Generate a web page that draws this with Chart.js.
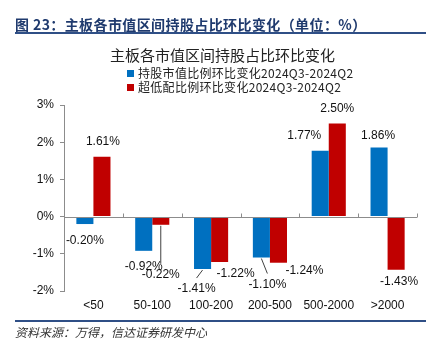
<!DOCTYPE html>
<html>
<head>
<meta charset="utf-8">
<script src="https://cdn.jsdelivr.net/npm/chart.js@4.4.1/dist/chart.umd.min.js"></script>
<style>
  html, body { margin: 0; padding: 0; background: #fff; }
  #wrap { position: relative; width: 441px; height: 349px; overflow: hidden; font-family: "Noto Sans CJK SC", sans-serif; }
  #chart { position: absolute; left: 0; top: 0; }
  .abs { position: absolute; white-space: nowrap; }
  #head { left: 15px; top: 15px; font-size: 14px; font-weight: bold; color: #1f3a6e; line-height: 18px; letter-spacing: 0.4px; }
  .rule { position: absolute; left: 15px; width: 411px; background: #2f4f86; }
  #title { left: 110px; top: 45px; font-size: 15px; color: #222; line-height: 20px; }
  .leg { left: 127px; font-size: 12px; color: #222; line-height: 15px; letter-spacing: 0.3px; }
  .leg i { display: inline-block; width: 7px; height: 7px; margin-right: 4px; vertical-align: 1px; }
  #src { left: 15px; top: 324px; font-size: 12px; font-style: italic; color: #333; line-height: 16px; }
</style>
</head>
<body>
<div id="wrap">
  <canvas id="chart" width="441" height="349"></canvas>
  <div class="abs" id="head">图 23：主板各市值区间持股占比环比变化（单位：%）</div>
  <div class="rule" style="top:32px;height:2px;"></div>
  <div class="abs" id="title">主板各市值区间持股占比环比变化</div>
  <div class="abs leg" style="top:65px;"><i style="background:#0070c0"></i>持股市值比例环比变化2024Q3-2024Q2</div>
  <div class="abs leg" style="top:79px;"><i style="background:#c00000"></i>超低配比例环比变化2024Q3-2024Q2</div>
  <div class="rule" style="top:320px;height:1.5px;"></div>
  <div class="abs" id="src">资料来源：万得，信达证券研发中心</div>
</div>
<script>
const categories = ["<50", "50-100", "100-200", "200-500", "500-2000", ">2000"];
const holdingChange = [-0.20, -0.92, -1.41, -1.10, 1.77, 1.86];
const overweightChange = [1.61, -0.22, -1.22, -1.24, 2.50, -1.43];
const seriesNames = ["持股市值比例环比变化2024Q3-2024Q2", "超低配比例环比变化2024Q3-2024Q2"];
const yTicks = [-2, -1, 0, 1, 2, 3];

// label nudges [dx, dy, leader line] per dataset / bar
const labelNudge = [
  [[0, 2, 0], [0, 1, 0], [-6, 5, 1], [6, 12, 1], [-16, 0, 0], [-1, 3, 0]],
  [[1, 0, 0], [0, 35, 1], [16, -3, 0], [26, -7, 0], [0, 0, 0], [3, -3, 0]]
];

const axisGray = "#8c8c8c";

const labelPlugin = {
  id: "barLabels",
  afterDatasetsDraw(chart) {
    const ctx = chart.ctx;
    ctx.save();
    ctx.font = "12px 'Liberation Sans', Arial, sans-serif";
    ctx.textAlign = "center";
    ctx.textBaseline = "middle";
    chart.data.datasets.forEach((ds, di) => {
      chart.getDatasetMeta(di).data.forEach((bar, i) => {
        const v = ds.data[i];
        const n = labelNudge[di][i];
        const lx = bar.x + n[0];
        const ly = bar.y + (v >= 0 ? -15 : 15) + n[1];
        if (n[2]) {
          ctx.strokeStyle = "#404040";
          ctx.lineWidth = 1;
          ctx.beginPath();
          ctx.moveTo(bar.x, bar.y + 1);
          ctx.lineTo(lx, ly - 11);
          ctx.stroke();
        }
        ctx.fillStyle = "#111";
        ctx.fillText(v.toFixed(2) + "%", lx, ly);
      });
    });
    ctx.restore();
  }
};

const zeroAxisPlugin = {
  id: "zeroAxis",
  afterDatasetsDraw(chart) {
    const ctx = chart.ctx;
    const x = chart.scales.x, y = chart.scales.y;
    const y0 = Math.round(y.getPixelForValue(0)) + 0.5;
    ctx.save();
    ctx.strokeStyle = axisGray;
    ctx.lineWidth = 1;
    ctx.beginPath();
    ctx.moveTo(x.left, y0);
    ctx.lineTo(x.right, y0);
    const step = (x.right - x.left) / categories.length;
    for (let i = 1; i <= categories.length; i++) {
      const px = Math.round(x.left + step * i) + 0.5;
      ctx.moveTo(px, y0);
      ctx.lineTo(px, y0 - 4);
    }
    ctx.stroke();
    ctx.restore();
  }
};

new Chart(document.getElementById("chart"), {
  type: "bar",
  data: {
    labels: categories,
    datasets: [
      { label: seriesNames[0], data: holdingChange, backgroundColor: "#0070c0" },
      { label: seriesNames[1], data: overweightChange, backgroundColor: "#c00000" }
    ]
  },
  options: {
    responsive: false,
    animation: false,
    categoryPercentage: 0.58,
    barPercentage: 1,
    layout: { padding: { left: 20, right: 24, top: 105, bottom: 34 } },
    plugins: { legend: { display: false }, title: { display: false }, tooltip: { enabled: false } },
    scales: {
      x: {
        grid: { display: false, drawTicks: false },
        border: { display: false },
        ticks: { color: "#111", padding: 7, font: { family: "'Liberation Sans', Arial, sans-serif", size: 12 } },
        afterFit(scale) { scale.height = 24; }
      },
      y: {
        min: yTicks[0],
        max: yTicks[yTicks.length - 1],
        afterBuildTicks(scale) { scale.ticks = yTicks.map(v => ({ value: v })); },
        grid: { drawOnChartArea: false, drawTicks: true, tickLength: 4, color: axisGray },
        border: { display: true, color: axisGray },
        ticks: {
          color: "#111",
          padding: 6,
          font: { family: "'Liberation Sans', Arial, sans-serif", size: 12 },
          callback: v => v + "%"
        },
        afterFit(scale) { scale.width = 44; }
      }
    }
  },
  plugins: [zeroAxisPlugin, labelPlugin]
});
</script>
</body>
</html>
